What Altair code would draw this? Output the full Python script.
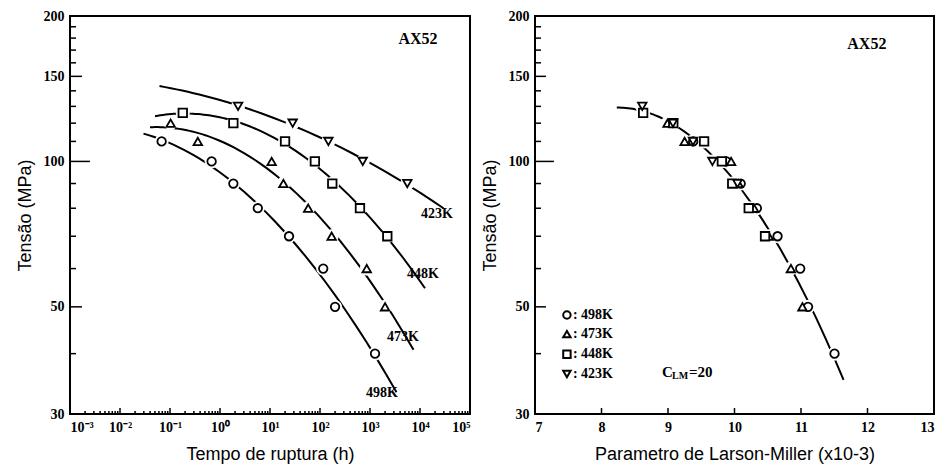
import altair as alt
import pandas as pd

# Creep-rupture data for magnesium alloy AX52: rupture time (h) vs stress (MPa)
temps = ["498K", "473K", "448K", "423K"]
kelvin = [498, 473, 448, 423]
shapes = ["circle", "triangle-up", "square", "triangle-down"]

t_498 = [0.068, 0.68, 1.85, 5.7, 24, 116, 200, 1260]
s_498 = [110, 100, 90, 80, 70, 60, 50, 40]
t_473 = [0.103, 0.36, 10.8, 18.5, 58, 171, 860, 2000]
s_473 = [120, 110, 100, 90, 80, 70, 60, 50]
t_448 = [0.18, 1.85, 20, 79, 176, 630, 2220]
s_448 = [126, 120, 110, 100, 90, 80, 70]
t_423 = [2.3, 28.4, 147, 715, 5570]
s_423 = [130, 120, 110, 100, 90]

# span (log10 h) over which each fitted isotherm is drawn
fit_lo = [-1.53, -1.40, -1.30, -1.21]
fit_hi = [3.53, 3.87, 4.10, 4.47]
# span of the master curve in Larson-Miller parameter (x10^-3)
lmp_span = [8.23, 11.64]
C_LM = 20

# curve labels
curve_text = ["423K", "448K", "473K", "498K"]
curve_t = [21900, 11500, 4570, 1740]
curve_s = [77.8, 58.5, 43.4, 33.1]

# key for the symbols (Larson-Miller panel)
key_x = 7.48
key_s = [48.1, 43.9, 39.9, 36.3]

# axis tick positions
stress_ticks = [30, 50, 100, 150, 200]
stress_minor = [40, 60, 70, 80, 90, 110, 120, 130, 140, 160, 170, 180, 190]
stress_mid = [50, 150]
stress_major = [100]
time_ticks = [1e-3, 1e-2, 1e-1, 1e0, 1e1, 1e2, 1e3, 1e4, 1e5]
time_minor = [m * 10.0 ** e for e in range(-3, 5) for m in range(2, 10)]
lmp_ticks = [7, 8, 9, 10, 11, 12, 13]

rows = []
for name, K, ts, ss in zip(temps, kelvin, [t_498, t_473, t_448, t_423],
                           [s_498, s_473, s_448, s_423]):
    for t, s in zip(ts, ss):
        rows.append({"temp": name, "K": K, "t": t, "s": s})
df = pd.DataFrame(rows)

W, H = 400, 398
SERIF = "Liberation Serif"
SANS = "Liberation Sans"

y_scale = alt.Scale(type="log", domain=[30, 200], nice=False)
xt_scale = alt.Scale(type="log", domain=[1e-3, 1e5], nice=False)
xl_scale = alt.Scale(type="linear", domain=[7, 13], nice=False, zero=False)
shape_scale = alt.Scale(domain=temps, range=shapes)

y_axis = alt.Axis(values=stress_ticks, ticks=False, domain=False, grid=False,
                  labelFont=SERIF, labelFontWeight="bold", labelFontSize=14,
                  labelPadding=6, title="Tensão (MPa)", titleFont=SANS,
                  titleFontSize=18, titleFontWeight="normal", titlePadding=9)
xt_axis = alt.Axis(values=time_ticks, ticks=False, domain=False, grid=False,
                   labelExpr="'10' + ['⁻³','⁻²','⁻¹','⁰','¹','²','³','⁴','⁵']"
                             "[round(log(datum.value)/LN10) + 3]",
                   labelFont=SERIF, labelFontWeight="bold", labelFontSize=14,
                   labelPadding=6, title="Tempo de ruptura (h)", titleFont=SANS,
                   titleFontSize=18, titleFontWeight="normal", titlePadding=11)
xl_axis = alt.Axis(values=lmp_ticks, ticks=False, domain=False, grid=False,
                   labelFont=SERIF, labelFontWeight="bold", labelFontSize=14,
                   labelPadding=6, title="Parametro de Larson-Miller (x10-3)",
                   titleFont=SANS, titleFontSize=18, titleFontWeight="normal",
                   titlePadding=11)


def Y(field):
    return alt.Y(field, type="quantitative", scale=y_scale, axis=y_axis)


def XT(field):
    return alt.X(field, type="quantitative", scale=xt_scale, axis=xt_axis)


def XL(field):
    return alt.X(field, type="quantitative", scale=xl_scale, axis=xl_axis)


def SH():
    return alt.Shape("temp:N", scale=shape_scale, legend=None)


def y_ticks(values, length):
    return alt.Chart(pd.DataFrame({"v": values})).mark_rule(
        color="black", strokeWidth=1.5).encode(
        y=Y("v"), x=alt.value(0), x2=alt.value(length))


def x_ticks(values, length, X):
    return alt.Chart(pd.DataFrame({"v": values})).mark_rule(
        color="black", strokeWidth=1.5).encode(
        x=X("v"), y=alt.value(H), y2=alt.value(H - length))


def markers(base, X, xfield):
    # white disc under each symbol leaves a small gap in the curve
    halo = base.mark_point(filled=True, shape="circle", fill="white", stroke="white",
                           strokeWidth=1, size=170, opacity=1).encode(
        x=X(xfield), y=Y("s"))
    pts = base.mark_point(filled=True, fill="white", stroke="black",
                          strokeWidth=1.8, size=72, opacity=1).encode(
        x=X(xfield), y=Y("s"), shape=SH())
    return [halo, pts]


logs = alt.Chart(df).transform_calculate(
    lt="log(datum.t)/LN10", ls="log(datum.s)/LN10",
    lmp=f"datum.K * ({C_LM} + log(datum.t)/LN10) / 1000")

# ---- left panel: stress vs rupture time ----
left_layers = []
for name, lo, hi in zip(temps, fit_lo, fit_hi):
    curve = logs.transform_filter(alt.datum.temp == name).transform_regression(
        "lt", "ls", method="poly", order=2, extent=[lo, hi]
    ).transform_calculate(tt="pow(10, datum.lt)", ss="pow(10, datum.ls)"
    ).mark_line(color="black", strokeWidth=2).encode(x=XT("tt"), y=Y("ss"))
    left_layers.append(curve)

left_layers += markers(alt.Chart(df), XT, "t")

left_layers.append(alt.Chart(pd.DataFrame(
    {"txt": curve_text, "t": curve_t, "s": curve_s})).mark_text(
    font=SERIF, fontWeight="bold", fontSize=14, color="black").encode(
    x=XT("t"), y=Y("s"), text="txt:N"))
left_layers.append(alt.Chart(pd.DataFrame({"txt": ["AX52"], "t": [9100], "s": [179]})).mark_text(
    font=SERIF, fontWeight="bold", fontSize=16, color="black").encode(
    x=XT("t"), y=Y("s"), text="txt:N"))

left_layers += [y_ticks(stress_minor, 6), y_ticks(stress_mid, 12), y_ticks(stress_major, 20),
                x_ticks(time_minor, 3, XT), x_ticks(time_ticks[1:-1], 6, XT)]

left = alt.layer(*left_layers).properties(width=W, height=H)

# ---- right panel: stress vs Larson-Miller parameter ----
master = logs.transform_regression(
    "lmp", "ls", method="poly", order=2, extent=lmp_span
).transform_calculate(ss="pow(10, datum.ls)").mark_line(
    color="black", strokeWidth=2).encode(x=XL("lmp"), y=Y("ss"))

right_layers = [master] + markers(logs, XL, "lmp")

# symbol key
key = alt.Chart(pd.DataFrame({"temp": temps, "x": [key_x] * 4, "s": key_s}))
right_layers.append(key.mark_point(filled=True, fill="white", stroke="black",
                                   strokeWidth=2, size=55, opacity=1).encode(
    x=XL("x"), y=Y("s"), shape=SH()))
right_layers.append(key.transform_calculate(lbl="': ' + datum.temp").mark_text(
    font=SERIF, fontWeight="bold", fontSize=14, align="left", dx=6, color="black").encode(
    x=XL("x"), y=Y("s"), text="lbl:N"))

right_layers.append(alt.Chart(pd.DataFrame({"txt": ["AX52"], "x": [11.99], "s": [175]})).mark_text(
    font=SERIF, fontWeight="bold", fontSize=16, color="black").encode(
    x=XL("x"), y=Y("s"), text="txt:N"))

# C_LM = 20 annotation with subscript
cl = pd.DataFrame({"x": [8.91], "s": [36.7]})
right_layers.append(alt.Chart(cl).mark_text(
    font=SERIF, fontWeight="bold", fontSize=15, align="left", color="black").encode(
    x=XL("x"), y=Y("s"), text=alt.value("C")))
right_layers.append(alt.Chart(cl).mark_text(
    font=SERIF, fontWeight="bold", fontSize=10, align="left", dx=10, dy=4, color="black").encode(
    x=XL("x"), y=Y("s"), text=alt.value("LM")))
right_layers.append(alt.Chart(cl).mark_text(
    font=SERIF, fontWeight="bold", fontSize=15, align="left", dx=27, color="black").encode(
    x=XL("x"), y=Y("s"), text=alt.value(f"={C_LM}")))

right_layers += [y_ticks(stress_minor, 6), y_ticks(stress_mid, 11), y_ticks(stress_major, 19),
                 x_ticks(lmp_ticks[1:-1], 6, XL)]

right = alt.layer(*right_layers).properties(width=399, height=H)

chart = alt.hconcat(left, right, spacing=9).properties(
    padding={"left": 15, "top": 8, "right": 5, "bottom": 5}
).configure(background="white").configure_view(stroke="black", strokeWidth=2)

chart.save("out.html", embed_options={"renderer": "svg", "actions": False})
